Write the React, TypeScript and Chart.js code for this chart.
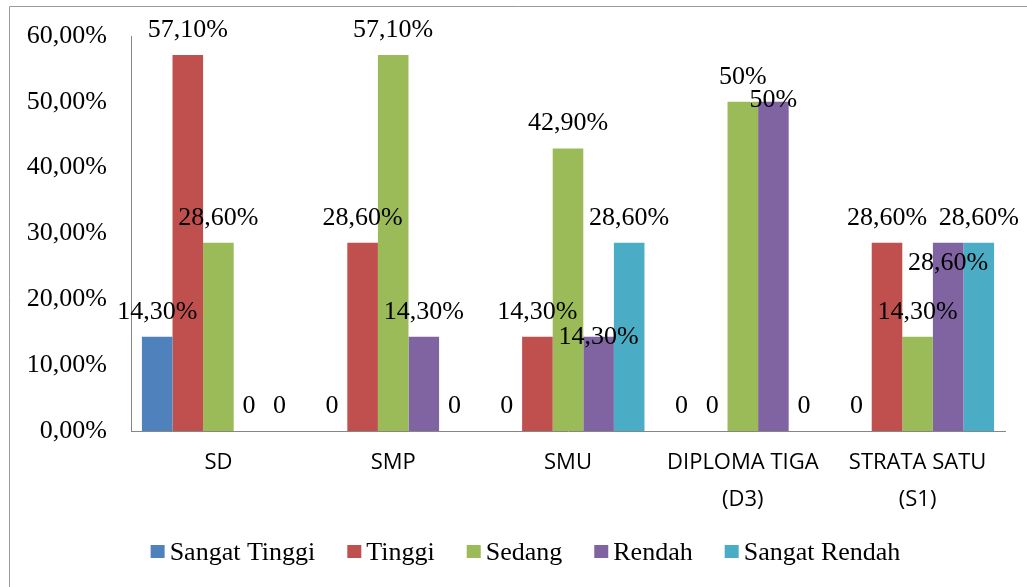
import React, { useEffect, useRef } from 'react';
import { Chart, registerables } from 'chart.js';

Chart.register(...registerables);

const categories: string[][] = [['SD'], ['SMP'], ['SMU'], ['DIPLOMA TIGA', '(D3)'], ['STRATA SATU', '(S1)']];
const seriesNames = ['Sangat Tinggi', 'Tinggi', 'Sedang', 'Rendah', 'Sangat Rendah'];
const sangatTinggi = [14.3, 0, 0, 0, 0];
const tinggi = [57.1, 28.6, 14.3, 0, 28.6];
const sedang = [28.6, 57.1, 42.9, 50, 14.3];
const rendah = [0, 14.3, 14.3, 50, 28.6];
const sangatRendah = [0, 0, 28.6, 0, 28.6];
const yMin = 0;
const yMax = 60;
const yStep = 10;

const seriesValues = [sangatTinggi, tinggi, sedang, rendah, sangatRendah];
const seriesColors = ['#4F81BD', '#C0504D', '#9BBB59', '#8064A2', '#4BACC6'];

// vertical nudges (px) for data labels that were moved in the original
const labelNudges: Record<string, number> = {
  '3-2': 25,
  '3-3': 23,
  '3-4': 45,
};

const SERIF = '"Liberation Serif", "Times New Roman", serif';
const SERIF_SIZE = 26;

const fmtTick = (v: number) => v.toFixed(2).replace('.', ',') + '%';
const fmtLabel = (v: number) =>
  v === 0 ? '0' : Number.isInteger(v) ? `${v}%` : v.toFixed(2).replace('.', ',') + '%';

const dataLabelPlugin = {
  id: 'dataLabels',
  afterDatasetsDraw(chart: any) {
    const ctx = chart.ctx;
    ctx.save();
    ctx.font = `${SERIF_SIZE}px ${SERIF}`;
    ctx.fillStyle = '#000';
    ctx.textAlign = 'center';
    ctx.textBaseline = 'middle';
    chart.data.datasets.forEach((ds: any, di: number) => {
      const meta = chart.getDatasetMeta(di);
      meta.data.forEach((el: any, i: number) => {
        const v = ds.data[i];
        const nudge = labelNudges[`${di}-${i}`] || 0;
        ctx.fillText(fmtLabel(v), el.x, el.y - 25 + nudge);
      });
    });
    ctx.restore();
  },
};

const legendPlugin = {
  id: 'customLegend',
  afterDraw(chart: any) {
    const ctx = chart.ctx;
    ctx.save();
    ctx.font = `${SERIF_SIZE}px ${SERIF}`;
    const box = 14;
    const gap = 5;
    const spacing = 32;
    const widths = seriesNames.map((n) => ctx.measureText(n).width);
    const total =
      widths.reduce((a, w) => a + box + gap + w, 0) + spacing * (seriesNames.length - 1);
    let x = 525.5 - total / 2;
    const cy = 552;
    seriesNames.forEach((n, i) => {
      ctx.fillStyle = seriesColors[i];
      ctx.fillRect(x, cy - 7, box, 13);
      x += box + gap;
      ctx.fillStyle = '#000';
      ctx.textAlign = 'left';
      ctx.textBaseline = 'middle';
      ctx.fillText(n, x, cy + 1);
      x += widths[i] + spacing;
    });
    ctx.restore();
  },
};

const framePlugin = {
  id: 'frame',
  beforeDraw(chart: any) {
    const ctx = chart.ctx;
    ctx.save();
    ctx.fillStyle = '#fff';
    ctx.fillRect(0, 0, chart.width, chart.height);
    ctx.strokeStyle = '#9a9a9a';
    ctx.lineWidth = 1;
    ctx.beginPath();
    ctx.moveTo(9.5, chart.height);
    ctx.lineTo(9.5, 6.5);
    ctx.lineTo(chart.width, 6.5);
    ctx.stroke();
    ctx.restore();
  },
};

export default function App() {
  const ref = useRef<HTMLCanvasElement | null>(null);

  useEffect(() => {
    if (!ref.current) return;
    const chart = new Chart(ref.current, {
      type: 'bar',
      data: {
        labels: categories,
        datasets: seriesNames.map((name, i) => ({
          label: name,
          data: seriesValues[i],
          backgroundColor: seriesColors[i],
          borderWidth: 0,
          categoryPercentage: 0.875,
          barPercentage: 1,
        })),
      },
      options: {
        animation: false,
        responsive: false,
        devicePixelRatio: 1,
        layout: { padding: { top: 36, right: 22, left: 0, bottom: 0 } },
        plugins: {
          legend: { display: false },
          tooltip: { enabled: false },
          title: { display: false },
        },
        scales: {
          x: {
            grid: { display: false, drawTicks: false },
            border: { display: true, color: '#868686', width: 1 },
            ticks: {
              color: '#000',
              font: { family: '"Open Sans", sans-serif', size: 22, lineHeight: 1.65 },
              padding: 14,
              maxRotation: 0,
              autoSkip: false,
            },
            afterFit: (s: any) => {
              s.height = 156;
            },
          },
          y: {
            min: yMin,
            max: yMax,
            grid: { display: false, drawTicks: false },
            border: { display: true, color: '#868686', width: 1 },
            ticks: {
              stepSize: yStep,
              color: '#000',
              font: { family: SERIF, size: SERIF_SIZE },
              padding: 24,
              callback: (v: any) => fmtTick(Number(v)),
            },
            afterFit: (s: any) => {
              s.width = 131;
              s.paddingTop = 0;
              s.paddingBottom = 0;
            },
          },
        },
      },
      plugins: [framePlugin, dataLabelPlugin, legendPlugin],
    });
    return () => chart.destroy();
  }, []);

  return (
    <div style={{ position: 'absolute', left: 0, top: 0, width: 1027, height: 587 }}>
      <canvas ref={ref} width={1027} height={587} style={{ display: 'block' }} />
    </div>
  );
}
